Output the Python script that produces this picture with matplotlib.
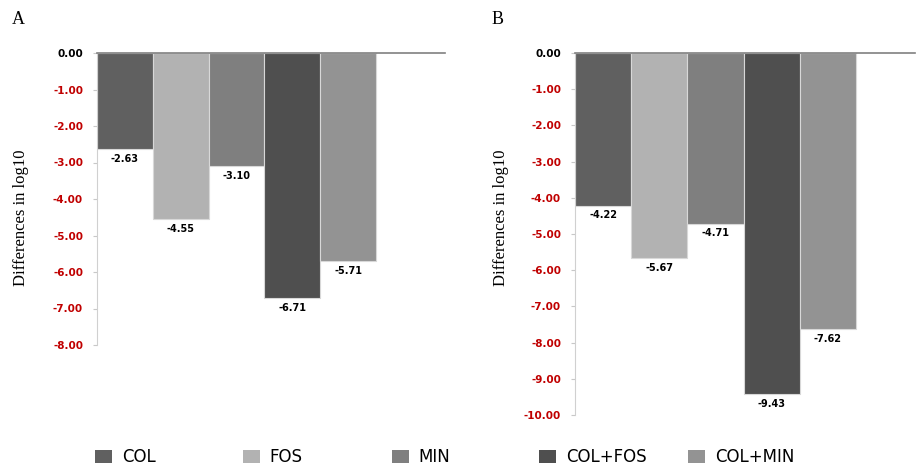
import matplotlib
matplotlib.use("Agg")
import matplotlib.pyplot as plt
from matplotlib.patches import Patch

categories = ["COL", "FOS", "MIN", "COL+FOS", "COL+MIN"]
values_a = [-2.63, -4.55, -3.10, -6.71, -5.71]
values_b = [-4.22, -5.67, -4.71, -9.43, -7.62]
colors = ["#606060", "#b2b2b2", "#7f7f7f", "#4f4f4f", "#939393"]
ticks_a = [0, -1, -2, -3, -4, -5, -6, -7, -8]
ticks_b = [0, -1, -2, -3, -4, -5, -6, -7, -8, -9, -10]

W, H = 916, 467
fig = plt.figure(figsize=(W / 100, H / 100), dpi=100)


def px_axes(x0, x1, y0, y1):
    return fig.add_axes([x0 / W, 1 - y1 / H, (x1 - x0) / W, (y1 - y0) / H])


def draw(ax, values, ticks, xmax):
    xs = [i + 0.5 for i in range(len(values))]
    ax.bar(xs, values, width=1.0, color=colors, edgecolor="#d8d8d8", linewidth=0.8)
    for x, v in zip(xs, values):
        ax.annotate(f"{v:.2f}", (x, v), xytext=(0, -7), textcoords="offset points",
                    ha="center", va="center", fontsize=7, fontweight="bold", color="black")
    ax.set_xlim(0, xmax)
    ax.set_ylim(min(ticks), 0)
    ax.set_xticks([])
    ax.set_yticks(ticks)
    ax.set_yticklabels([f"{t:.2f}" if t != 0 else "0.00" for t in ticks])
    for lab, t in zip(ax.get_yticklabels(), ticks):
        lab.set_color("black" if t == 0 else "#c00000")
        lab.set_fontweight("bold")
        lab.set_fontsize(7.5)
    ax.tick_params(axis="y", length=3, color="#c8c8c8", pad=7)
    for s in ["right", "bottom"]:
        ax.spines[s].set_visible(False)
    ax.spines["left"].set_color("#d0d0d0")
    ax.spines["top"].set_color("#808080")
    ax.spines["top"].set_linewidth(1.2)


ax_a = px_axes(97, 445, 53, 345)
draw(ax_a, values_a, ticks_a, 348 / 55.8)
ax_b = px_axes(575, 915, 53, 415)
draw(ax_b, values_b, ticks_b, 340 / 56.2)

for xpx in (21, 501):
    fig.text(xpx / W, 1 - 218 / H, "Differences in log10", family="Liberation Serif",
             fontsize=12, rotation=90, ha="center", va="center")

fig.text(12 / W, 1 - 20 / H, "A", family="Liberation Serif", fontsize=13, va="center", ha="left")
fig.text(492 / W, 1 - 20 / H, "B", family="Liberation Serif", fontsize=13, va="center", ha="left")

leg_x = [95, 243, 392, 539, 688]
for cat, col, x in zip(categories, colors, leg_x):
    fig.legend(handles=[Patch(facecolor=col, edgecolor="none")], labels=[cat],
               loc="center left", bbox_to_anchor=(x / W, 1 - 457 / H), frameon=False,
               borderpad=0, borderaxespad=0,
               handlelength=1.0, handleheight=0.8, handletextpad=0.6,
               prop={"family": "DejaVu Sans", "size": 12})

fig.savefig("out.png", dpi=100)
